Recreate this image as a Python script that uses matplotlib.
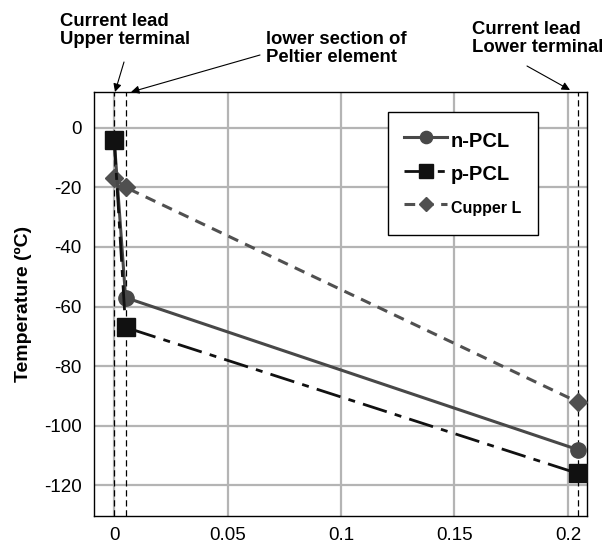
import matplotlib
matplotlib.use("Agg")
import matplotlib.pyplot as plt

plt.rcParams['font.family'] = ['Liberation Sans', 'DejaVu Sans']

# Data
x_pos = [0.0, 0.005, 0.2043]
n_pcl = [-4, -57, -108]
p_pcl = [-4, -67, -116]
cupper = [-17, -20, -92]
x_ticks = [0, 0.05, 0.1, 0.15, 0.2]
x_tick_labels = ["0", "0.05", "0.1", "0.15", "0.2"]
y_ticks = [0, -20, -40, -60, -80, -100, -120]
marker_lines = [0.0, 0.005, 0.2043]

fig = plt.figure(figsize=(6.02, 5.45), dpi=100)
ax = fig.add_axes([0.1566, 0.0532, 0.8180, 0.7774])

ax.set_xlim(-0.0088, 0.2083)
ax.set_ylim(-130.3, 11.9)

ax.set_xticks(x_ticks)
ax.set_xticklabels(x_tick_labels, fontsize=13.5)
ax.set_yticks(y_ticks)
ax.set_yticklabels([str(v) for v in y_ticks], fontsize=13.5)
ax.tick_params(length=0)
ax.tick_params(axis='x', pad=8)
ax.tick_params(axis='y', pad=9)
ax.grid(True, color='#b4b4b4', linewidth=1.6)
ax.set_axisbelow(True)
for s in ax.spines.values():
    s.set_linewidth(1.0)
    s.set_color('black')

for xv in marker_lines:
    ax.axvline(xv, color='black', linestyle=(0, (5, 3)), linewidth=0.9, zorder=2)

ax.plot(x_pos, cupper, color='#505050', linestyle=(0, (3.5, 2.5)), linewidth=2.2,
        marker='D', markersize=9, markerfacecolor='#505050', markeredgecolor='#505050',
        zorder=3, label='Cupper L')
ax.plot(x_pos, n_pcl, color='#484848', linestyle='-', linewidth=2.2,
        marker='o', markersize=11, markerfacecolor='#484848', markeredgecolor='#484848',
        zorder=4, label='n-PCL')
ax.plot(x_pos, p_pcl, color='#111111', linestyle=(0, (9, 3, 2.5, 3)), linewidth=2.0,
        marker='s', markersize=13, markerfacecolor='#111111', markeredgecolor='#111111',
        zorder=5, label='p-PCL')

ax.set_ylabel('Temperature (ºC)', fontsize=14, fontweight='bold', labelpad=9)

handles, labels = ax.get_legend_handles_labels()
order = [1, 2, 0]
leg = ax.legend([handles[i] for i in order], [labels[i] for i in order],
                loc='upper left', bbox_to_anchor=(387.7 / 602, (545 - 111.7) / 545),
                bbox_transform=fig.transFigure, fancybox=False, framealpha=1,
                edgecolor='black', prop={'size': 14, 'weight': 'bold'},
                handlelength=2.2, handleheight=1.5, handletextpad=0.2, labelspacing=0.5,
                borderpad=0.85, borderaxespad=0, markerscale=0.8)
leg.get_frame().set_linewidth(1.0)
texts = leg.get_texts()
texts[0].set_fontsize(14.5)
texts[1].set_fontsize(14.5)
texts[2].set_fontsize(11.5)

# Annotations (figure pixel coords)
def fp(x, y):
    return (x / 602, (545 - y) / 545)

arrowprops = dict(arrowstyle='-|>', color='black', linewidth=0.8, mutation_scale=12,
                  shrinkA=0, shrinkB=0)
fig.text(*fp(60, 12.5), 'Current lead\nUpper terminal', fontsize=13.3, fontweight='bold',
         va='top', ha='left', linespacing=1.08)
ax.annotate('', xy=fp(115, 92), xycoords='figure fraction',
            xytext=fp(124, 62), textcoords='figure fraction', arrowprops=arrowprops)

fig.text(*fp(266, 31), 'lower section of\nPeltier element', fontsize=13.3, fontweight='bold',
         va='top', ha='left', linespacing=1.08)
ax.annotate('', xy=fp(131, 92), xycoords='figure fraction',
            xytext=fp(260, 55), textcoords='figure fraction', arrowprops=arrowprops)

fig.text(*fp(472, 20.5), 'Current lead\nLower terminal', fontsize=13.3, fontweight='bold',
         va='top', ha='left', linespacing=1.08)
ax.annotate('', xy=fp(570, 90), xycoords='figure fraction',
            xytext=fp(527, 66), textcoords='figure fraction', arrowprops=arrowprops)

fig.savefig('out.png', dpi=100)
